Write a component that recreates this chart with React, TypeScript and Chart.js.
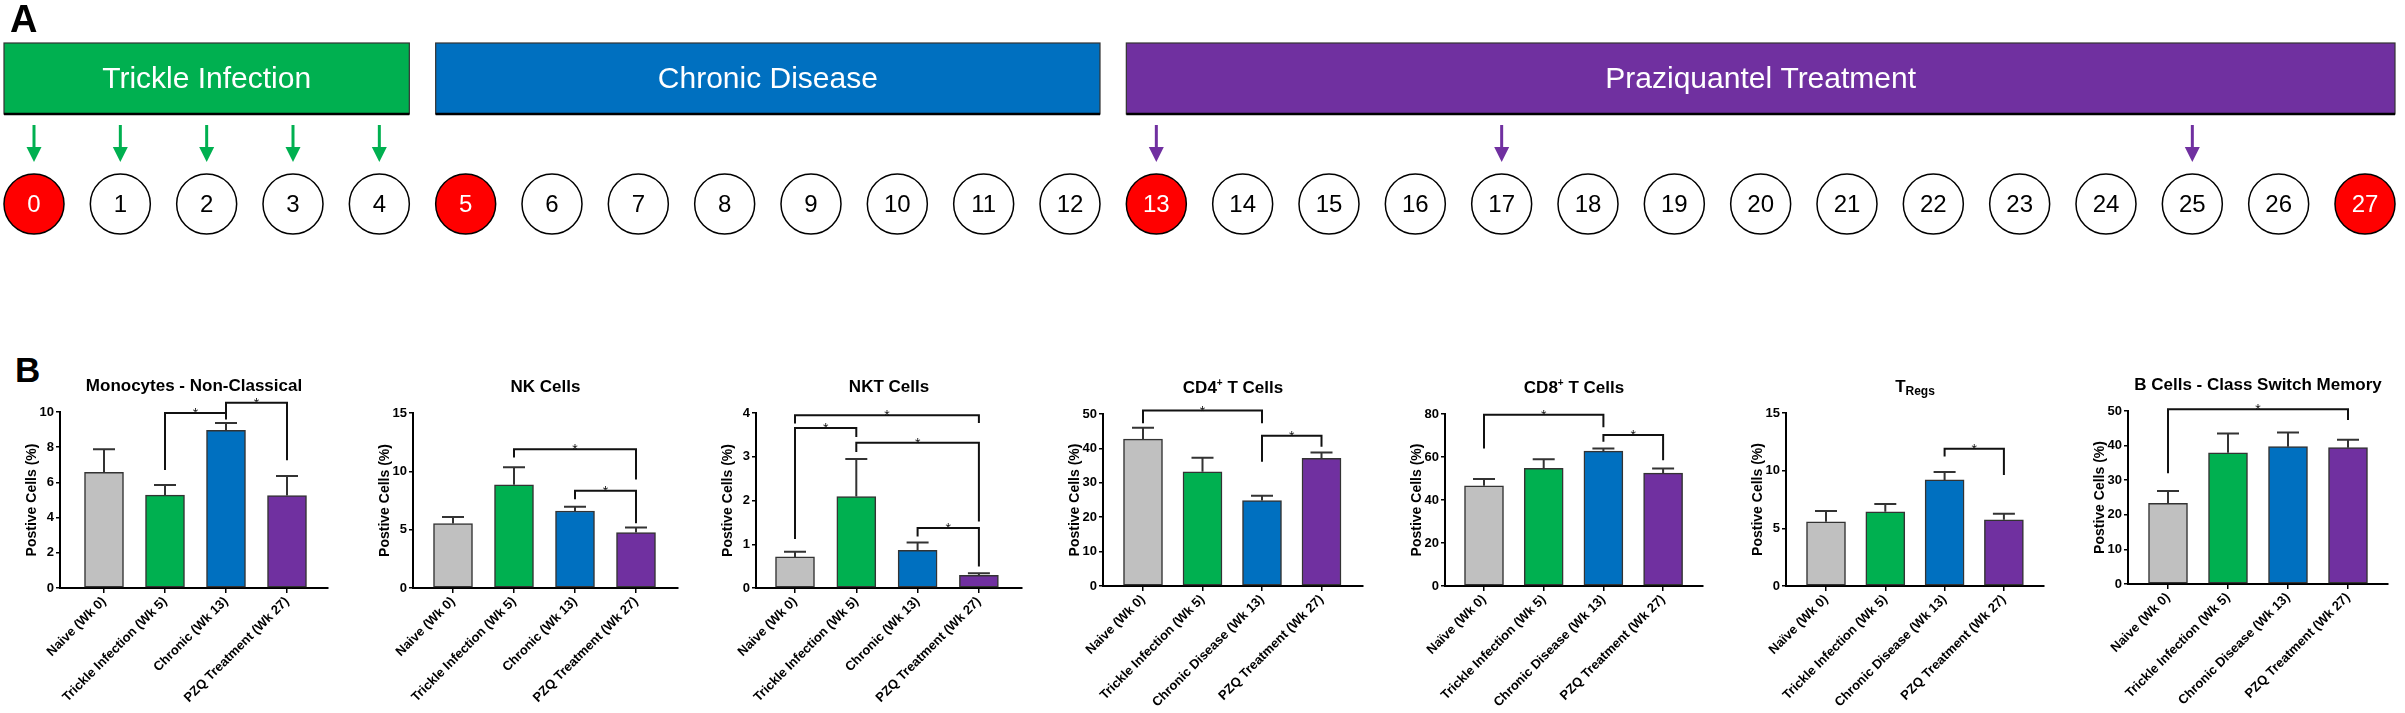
import React, { useEffect, useRef } from "react";
import { Chart, registerables } from "chart.js";

Chart.register(...registerables);

const FONT = "'Liberation Sans', Arial, Helvetica, sans-serif";
Chart.defaults.font.family = FONT;

// ---------------- Panel A data ----------------
const weeks = [0, 1, 2, 3, 4, 5, 6, 7, 8, 9, 10, 11, 12, 13, 14, 15, 16, 17, 18, 19, 20, 21, 22, 23, 24, 25, 26, 27];
const sampleWeeks = [0, 5, 13, 27];
const phaseNames = ["Trickle Infection", "Chronic Disease", "Praziquantel Treatment"];
const phaseStart = [0, 5, 13];
const phaseEnd = [4, 12, 27];
const phaseColors = ["#00B050", "#0070C0", "#7030A0"];
const infectionWeeks = [0, 1, 2, 3, 4];
const treatmentWeeks = [13, 17, 25];

// ---------------- Panel B data ----------------
const groupColors = ["#C0C0C0", "#00B050", "#0070C0", "#7030A0"];
const labelsShort = ["Naive (Wk 0)", "Trickle Infection (Wk 5)", "Chronic (Wk 13)", "PZQ Treatment (Wk 27)"];
const labelsLong = ["Naive (Wk 0)", "Trickle Infection (Wk 5)", "Chronic Disease (Wk 13)", "PZQ Treatment (Wk 27)"];
const labelsLongUml = ["Naïve (Wk 0)", "Trickle Infection (Wk 5)", "Chronic Disease (Wk 13)", "PZQ Treatment (Wk 27)"];

// brackets: [fromGroup, toGroup, barValue, leftLegEnd, rightLegEnd]
const monoMeans = [6.57, 5.28, 8.96, 5.25];
const monoSem = [1.32, 0.57, 0.42, 1.11];
const monoBrackets = [
  [1, 2, 9.94, 6.7, 9.58],
  [2, 3, 10.53, 9.94, 7.26],
];

const nkMeans = [5.52, 8.85, 6.6, 4.75];
const nkSem = [0.57, 1.51, 0.37, 0.43];
const nkBrackets = [
  [1, 3, 11.9, 11.19, 9.31],
  [2, 3, 8.34, 7.6, 5.55],
];

const nktMeans = [0.71, 2.09, 0.86, 0.29];
const nktSem = [0.12, 0.86, 0.18, 0.05];
const nktBrackets = [
  [0, 3, 3.95, 3.76, 3.77],
  [0, 1, 3.66, 1.12, 3.45],
  [1, 3, 3.32, 3.11, 1.52],
  [2, 3, 1.37, 1.18, 0.49],
];

const cd4Means = [42.7, 33.2, 24.85, 37.1];
const cd4Sem = [3.3, 4.1, 1.35, 1.7];
const cd4Brackets = [
  [0, 2, 51.0, 47.3, 47.3],
  [2, 3, 43.7, 36.1, 40.5],
];

const cd8Means = [46.6, 54.7, 62.7, 52.5];
const cd8Sem = [3.2, 4.2, 1.3, 2.2];
const cd8Brackets = [
  [0, 2, 79.7, 64.0, 73.8],
  [2, 3, 70.2, 67.1, 58.5],
];

const tregMeans = [5.57, 6.44, 9.2, 5.74];
const tregSem = [0.93, 0.66, 0.69, 0.53];
const tregBrackets = [[2, 3, 11.9, 11.23, 9.63]];

const bcsmMeans = [23.3, 37.9, 39.7, 39.4];
const bcsmSem = [3.6, 5.6, 4.1, 2.3];
const bcsmBrackets = [[0, 3, 50.5, 32.0, 47.4]];

const yTitle = "Postive Cells (%)";

type Part = { t: string; sup?: boolean; sub?: boolean };

const panels = [
  { title: [{ t: "Monocytes - Non-Classical" }] as Part[], labels: labelsShort, means: monoMeans, sems: monoSem, yMax: 10, yStep: 2, brackets: monoBrackets },
  { title: [{ t: "NK Cells" }] as Part[], labels: labelsShort, means: nkMeans, sems: nkSem, yMax: 15, yStep: 5, brackets: nkBrackets },
  { title: [{ t: "NKT Cells" }] as Part[], labels: labelsShort, means: nktMeans, sems: nktSem, yMax: 4, yStep: 1, brackets: nktBrackets },
  { title: [{ t: "CD4" }, { t: "+", sup: true }, { t: " T Cells" }] as Part[], labels: labelsLong, means: cd4Means, sems: cd4Sem, yMax: 50, yStep: 10, brackets: cd4Brackets },
  { title: [{ t: "CD8" }, { t: "+", sup: true }, { t: " T Cells" }] as Part[], labels: labelsLongUml, means: cd8Means, sems: cd8Sem, yMax: 80, yStep: 20, brackets: cd8Brackets },
  { title: [{ t: "T" }, { t: "Regs", sub: true }] as Part[], labels: labelsLongUml, means: tregMeans, sems: tregSem, yMax: 15, yStep: 5, brackets: tregBrackets },
  { title: [{ t: "B Cells - Class Switch Memory" }] as Part[], labels: labelsLong, means: bcsmMeans, sems: bcsmSem, yMax: 50, yStep: 10, brackets: bcsmBrackets },
];

// layout (pixels) for each panel: y-axis x, first-bar offset, category step, axis length, plot top, plot bottom
const panelLayout = [
  { axisX: 60, x0: 44, step: 61, len: 268, top: 412, bottom: 588 },
  { axisX: 413, x0: 40, step: 61, len: 265, top: 413, bottom: 588 },
  { axisX: 756, x0: 39, step: 61.3, len: 266, top: 413, bottom: 588 },
  { axisX: 1103, x0: 40, step: 59.5, len: 260, top: 414, bottom: 586 },
  { axisX: 1445, x0: 39, step: 59.7, len: 258, top: 414, bottom: 586 },
  { axisX: 1786, x0: 40, step: 59.3, len: 258, top: 413, bottom: 586 },
  { axisX: 2128, x0: 40, step: 60, len: 260, top: 411, bottom: 584 },
];

const PANEL_TOP = 340;
const PANEL_H = 373;
const YW = 75;
const PR = 6;

function drawRich(ctx: CanvasRenderingContext2D, parts: Part[], cx: number, baseline: number, size: number) {
  const fontFor = (p: Part) => `bold ${p.sup ? Math.round(size * 0.6) : p.sub ? Math.round(size * 0.7) : size}px ${FONT}`;
  let total = 0;
  for (const p of parts) {
    ctx.font = fontFor(p);
    total += ctx.measureText(p.t).width;
  }
  let x = cx - total / 2;
  ctx.textAlign = "left";
  ctx.textBaseline = "alphabetic";
  for (const p of parts) {
    ctx.font = fontFor(p);
    const dy = p.sup ? -size * 0.44 : p.sub ? size * 0.18 : 0;
    ctx.fillText(p.t, x, baseline + dy);
    x += ctx.measureText(p.t).width;
  }
}

function BarPanel({ idx }: { idx: number }) {
  const ref = useRef<HTMLCanvasElement | null>(null);
  const p = panels[idx];
  const L = panelLayout[idx];
  const width = YW + L.len + PR;
  useEffect(() => {
    if (!ref.current) return;
    const overlay = {
      id: "overlay" + idx,
      afterDatasetsDraw(chart: any) {
        const ctx = chart.ctx as CanvasRenderingContext2D;
        const xs = chart.scales.x;
        const ys = chart.scales.y;
        ctx.save();
        // error bars
        ctx.strokeStyle = "#333";
        ctx.lineWidth = 2;
        ctx.lineCap = "butt";
        p.means.forEach((m, i) => {
          const x = xs.getPixelForValue(i);
          const y1 = ys.getPixelForValue(m);
          const y2 = ys.getPixelForValue(m + p.sems[i]);
          ctx.beginPath();
          ctx.moveTo(x, y1);
          ctx.lineTo(x, y2);
          ctx.moveTo(x - 11, y2);
          ctx.lineTo(x + 11, y2);
          ctx.stroke();
        });
        // significance brackets
        ctx.strokeStyle = "#111";
        ctx.lineWidth = 2;
        ctx.lineJoin = "miter";
        p.brackets.forEach((b) => {
          const xa = xs.getPixelForValue(b[0]);
          const xb = xs.getPixelForValue(b[1]);
          const yl = ys.getPixelForValue(b[2]);
          ctx.beginPath();
          ctx.moveTo(xa, ys.getPixelForValue(b[3]));
          ctx.lineTo(xa, yl);
          ctx.lineTo(xb, yl);
          ctx.lineTo(xb, ys.getPixelForValue(b[4]));
          ctx.stroke();
          ctx.fillStyle = "#111";
          ctx.font = `14px ${FONT}`;
          ctx.textAlign = "center";
          ctx.textBaseline = "alphabetic";
          ctx.fillText("*", (xa + xb) / 2, yl + 5);
        });
        ctx.restore();
      },
      afterDraw(chart: any) {
        const ctx = chart.ctx as CanvasRenderingContext2D;
        const a = chart.chartArea;
        ctx.save();
        ctx.fillStyle = "#000";
        drawRich(ctx, p.title, (a.left + a.right) / 2, a.top - 21, 17);
        ctx.translate(a.left - 28, (a.top + a.bottom) / 2);
        ctx.rotate(-Math.PI / 2);
        ctx.font = `bold 14px ${FONT}`;
        ctx.textAlign = "center";
        ctx.textBaseline = "middle";
        ctx.fillText(yTitle, 0, 0);
        ctx.restore();
      },
    };
    const chart = new Chart(ref.current, {
      type: "bar",
      data: {
        datasets: [
          {
            data: p.means.map((m, i) => ({ x: i, y: m })),
            backgroundColor: groupColors,
            borderColor: "#333",
            borderWidth: 1.5,
            borderSkipped: false,
            barThickness: 39,
          } as any,
        ],
      },
      options: {
        responsive: false,
        animation: false,
        events: [],
        layout: { autoPadding: false, padding: { top: L.top - PANEL_TOP, bottom: 0, left: 0, right: PR } },
        plugins: { legend: { display: false }, tooltip: { enabled: false }, title: { display: false } },
        scales: {
          x: {
            type: "linear",
            offset: false,
            min: -L.x0 / L.step,
            max: (L.len - L.x0) / L.step,
            afterBuildTicks: (axis: any) => {
              axis.ticks = p.labels.map((_, i) => ({ value: i }));
            },
            afterFit: (scale: any) => {
              scale.height = PANEL_TOP + PANEL_H - L.bottom;
            },
            ticks: {
              autoSkip: false,
              minRotation: 45,
              maxRotation: 45,
              color: "#000",
              padding: 1,
              font: { family: FONT, size: 13, weight: "bold" },
              callback: (v: any) => p.labels[Math.round(Number(v))] ?? "",
            },
            grid: { display: true, offset: false, drawOnChartArea: false, drawTicks: true, tickLength: 5, color: "#000", lineWidth: 1.5 },
            border: { display: true, color: "#000", width: 2 },
          },
          y: {
            type: "linear",
            min: 0,
            max: p.yMax,
            afterFit: (scale: any) => {
              scale.width = YW;
            },
            ticks: {
              stepSize: p.yStep,
              color: "#000",
              padding: 2,
              font: { family: FONT, size: 13, weight: "bold" },
            },
            grid: { display: true, drawOnChartArea: false, drawTicks: true, tickLength: 4, color: "#000", lineWidth: 1.5 },
            border: { display: true, color: "#000", width: 2 },
          },
        },
      } as any,
      plugins: [overlay],
    });
    return () => chart.destroy();
  }, [idx]);
  return (
    <canvas
      ref={ref}
      width={width}
      height={PANEL_H}
      style={{ position: "absolute", left: L.axisX - YW, top: PANEL_TOP, width, height: PANEL_H }}
    />
  );
}

function TimelinePanel() {
  const ref = useRef<HTMLCanvasElement | null>(null);
  const W = 2405;
  const H = 300;
  const R = 30;
  useEffect(() => {
    if (!ref.current) return;
    const unit = (2365 - 34) / 27;
    const overlay = {
      id: "timeline",
      afterDraw(chart: any) {
        const ctx = chart.ctx as CanvasRenderingContext2D;
        const xs = chart.scales.x;
        const y0 = chart.scales.y.getPixelForValue(0);
        ctx.save();
        // panel letter
        ctx.fillStyle = "#000";
        ctx.font = `bold 38px ${FONT}`;
        ctx.textAlign = "left";
        ctx.textBaseline = "alphabetic";
        ctx.fillText("A", 10, 32);
        // phase boxes
        phaseNames.forEach((name, i) => {
          const l = xs.getPixelForValue(phaseStart[i]) - R;
          const r = xs.getPixelForValue(phaseEnd[i]) + R;
          const t = y0 - 161;
          const b = y0 - 90;
          ctx.fillStyle = phaseColors[i];
          ctx.fillRect(l, t, r - l, b - t);
          ctx.strokeStyle = "#333";
          ctx.lineWidth = 1.2;
          ctx.strokeRect(l, t, r - l, b - t);
          ctx.strokeStyle = "#000";
          ctx.lineWidth = 2.5;
          ctx.beginPath();
          ctx.moveTo(l, b);
          ctx.lineTo(r, b);
          ctx.stroke();
          ctx.fillStyle = "#fff";
          ctx.font = `30px ${FONT}`;
          ctx.textAlign = "center";
          ctx.textBaseline = "middle";
          ctx.fillText(name, (l + r) / 2, (t + b) / 2 + 1);
        });
        // arrows
        const arrow = (w: number, color: string) => {
          const x = xs.getPixelForValue(w);
          ctx.strokeStyle = color;
          ctx.fillStyle = color;
          ctx.lineWidth = 3;
          ctx.beginPath();
          ctx.moveTo(x, y0 - 79);
          ctx.lineTo(x, y0 - 55);
          ctx.stroke();
          ctx.beginPath();
          ctx.moveTo(x - 7.5, y0 - 57);
          ctx.lineTo(x + 7.5, y0 - 57);
          ctx.lineTo(x, y0 - 42);
          ctx.closePath();
          ctx.fill();
        };
        infectionWeeks.forEach((w) => arrow(w, phaseColors[0]));
        treatmentWeeks.forEach((w) => arrow(w, phaseColors[2]));
        // circle labels
        ctx.font = `24px ${FONT}`;
        ctx.textAlign = "center";
        ctx.textBaseline = "middle";
        weeks.forEach((w) => {
          ctx.fillStyle = sampleWeeks.includes(w) ? "#fff" : "#000";
          ctx.fillText(String(w), xs.getPixelForValue(w), y0 + 1);
        });
        ctx.restore();
      },
    };
    const chart = new Chart(ref.current, {
      type: "scatter",
      data: {
        datasets: [
          {
            data: weeks.map((w) => ({ x: w, y: 0 })),
            pointRadius: R,
            pointHoverRadius: R,
            pointBackgroundColor: weeks.map((w) => (sampleWeeks.includes(w) ? "#FF0000" : "#FFFFFF")),
            pointBorderColor: "#000",
            pointBorderWidth: 1.5,
            clip: false,
          } as any,
        ],
      },
      options: {
        responsive: false,
        animation: false,
        events: [],
        layout: { autoPadding: false, padding: { top: 174, bottom: H - 234, left: 0, right: 0 } },
        plugins: { legend: { display: false }, tooltip: { enabled: false } },
        scales: {
          x: { type: "linear", display: false, min: -34 / unit, max: 27 + 40 / unit },
          y: { type: "linear", display: false, min: -1, max: 1 },
        },
      } as any,
      plugins: [overlay],
    });
    return () => chart.destroy();
  }, []);
  return <canvas ref={ref} width={W} height={H} style={{ position: "absolute", left: 0, top: 0, width: W, height: H }} />;
}

export default function App() {
  return (
    <div style={{ position: "absolute", left: 0, top: 0, width: 2405, height: 713, background: "#fff", overflow: "hidden" }}>
      <TimelinePanel />
      <div
        style={{
          position: "absolute",
          left: 15,
          top: 352,
          font: `bold 35px ${FONT}`,
          color: "#000",
          lineHeight: "35px",
        }}
      >
        B
      </div>
      {panels.map((_, i) => (
        <BarPanel key={i} idx={i} />
      ))}
    </div>
  );
}
